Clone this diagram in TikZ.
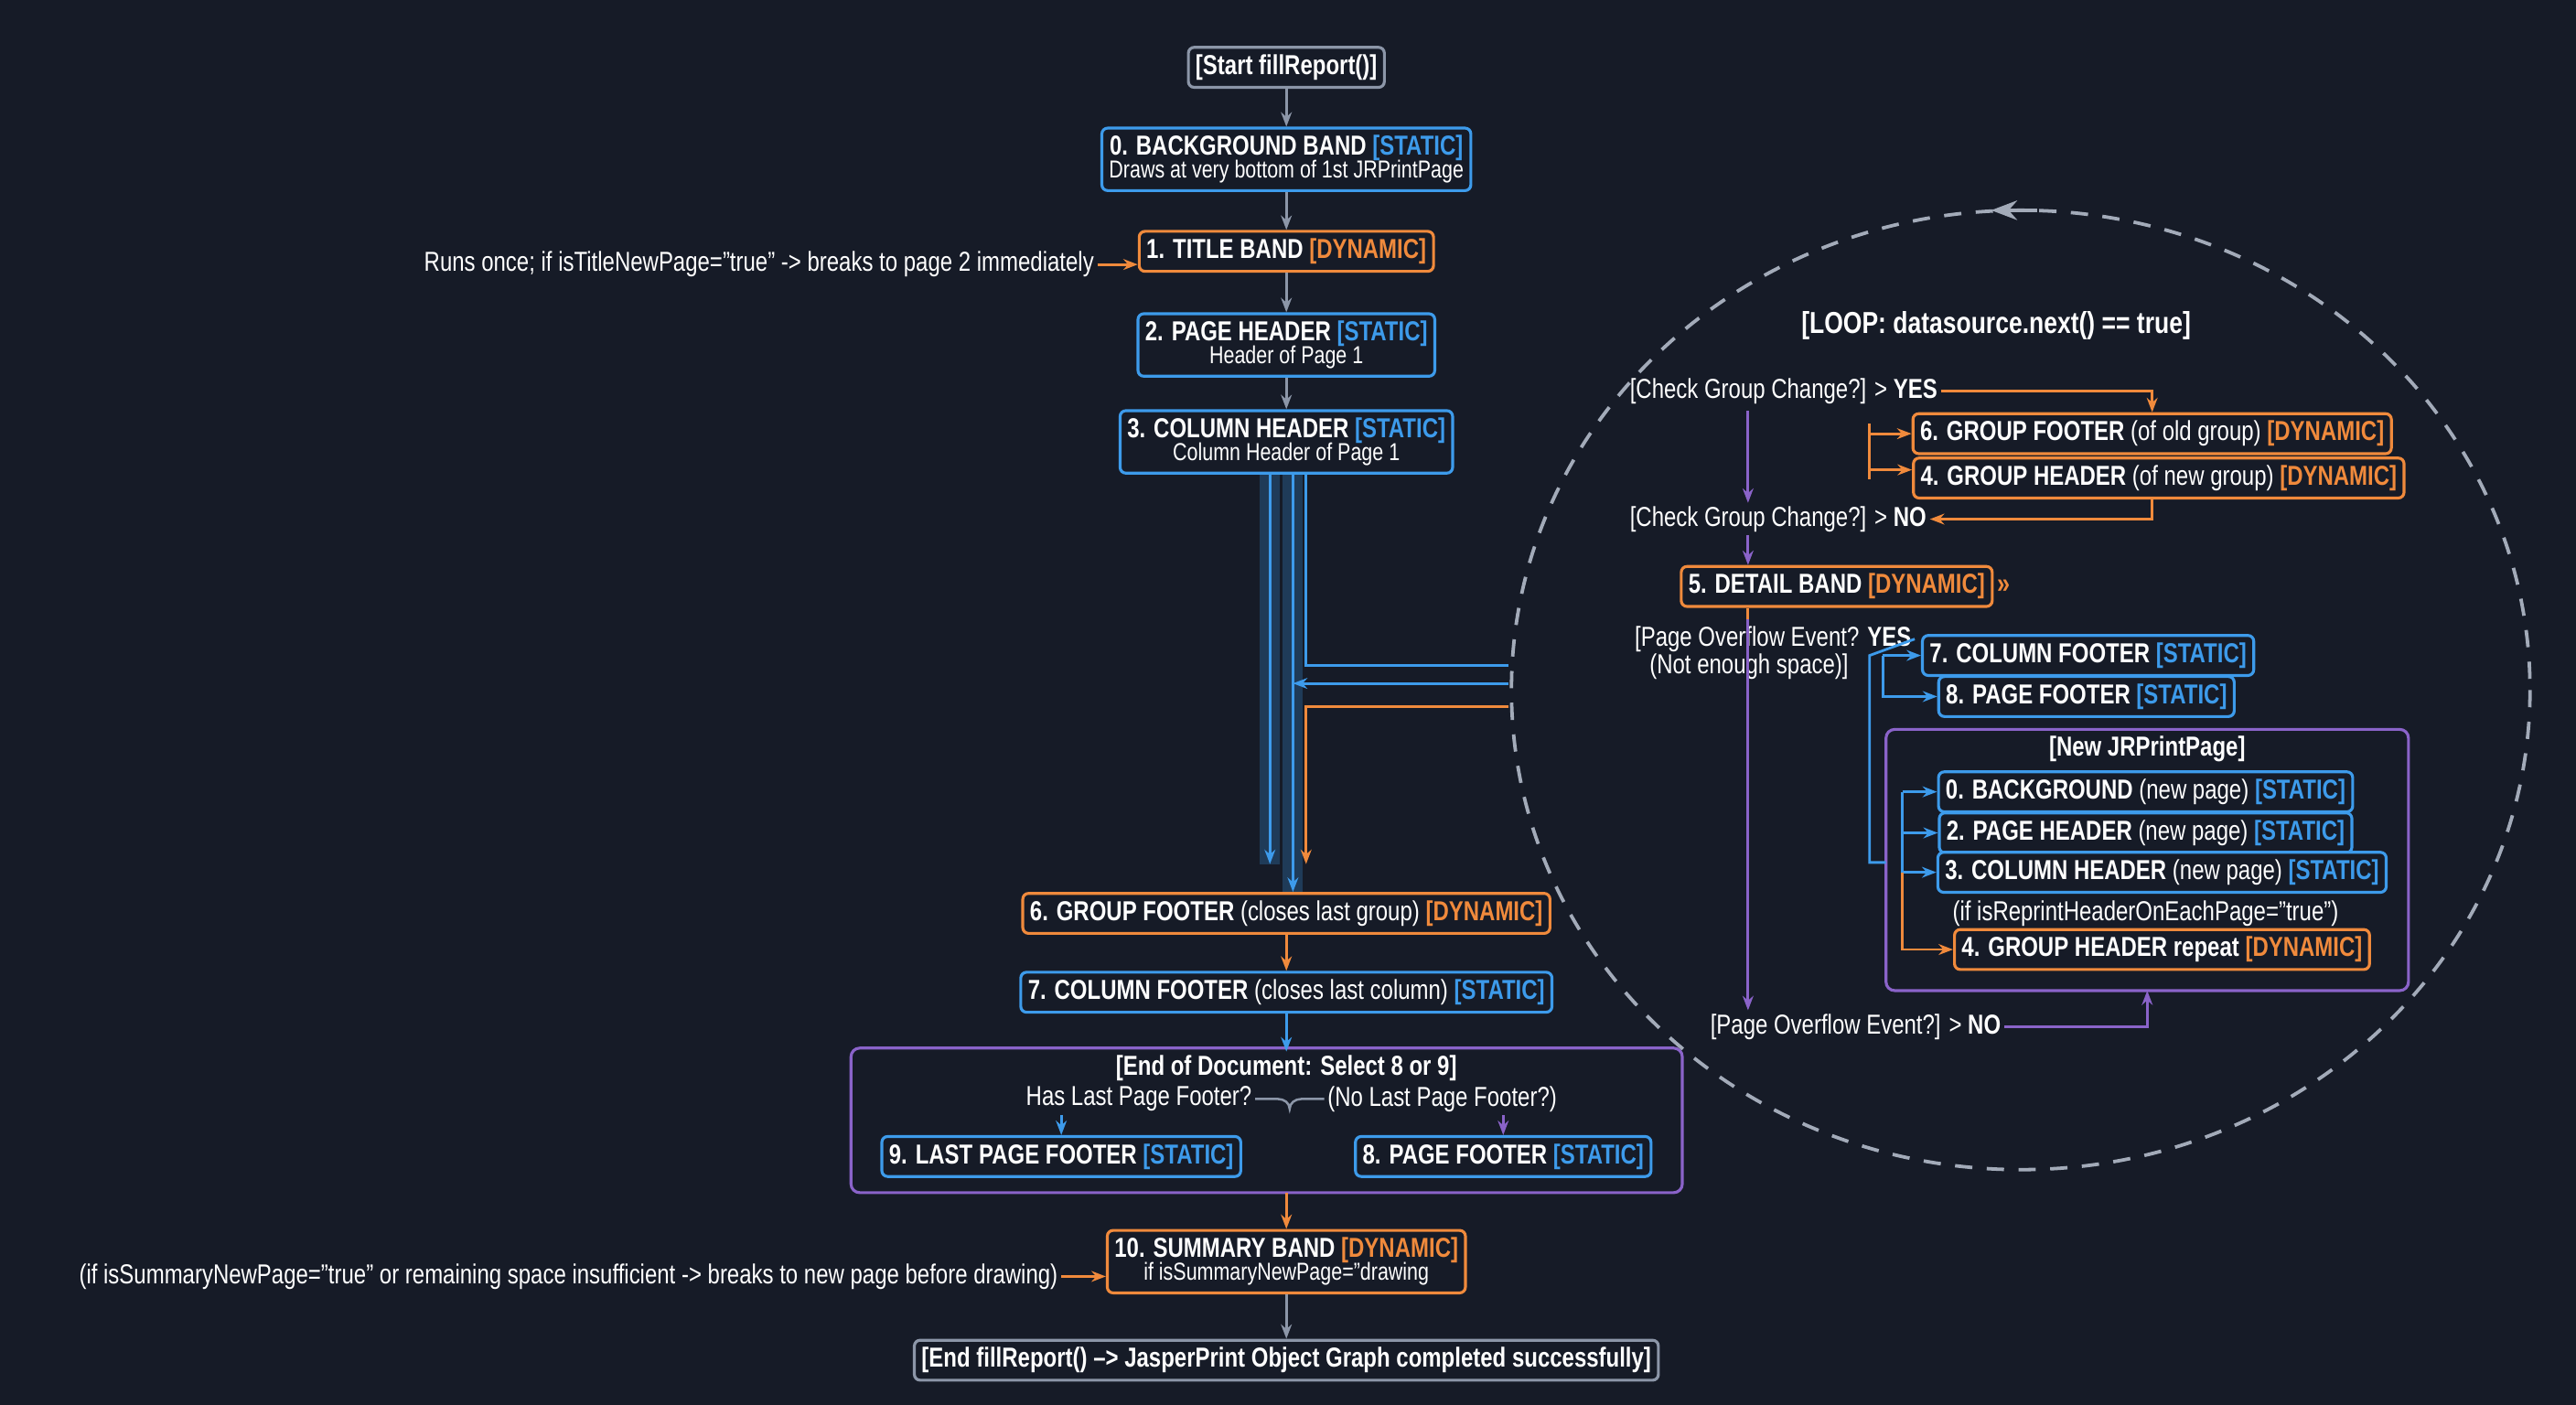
\documentclass[tikz,border=0pt]{standalone}
\usepackage{fontspec}
\setmainfont{Liberation Sans}[FakeStretch=0.8]
\usetikzlibrary{arrows.meta}
\definecolor{bgc}{HTML}{161B27}
\definecolor{cblue}{HTML}{3D9BEB}
\definecolor{corange}{HTML}{F08A3C}
\definecolor{cpurple}{HTML}{8A63C9}
\definecolor{cgray}{HTML}{8C96A8}
\newcommand{\stt}{{\color{cblue}[STATIC]}}
\newcommand{\dyn}{{\color{corange}[DYNAMIC]}}
\newcommand{\subt}{\mdseries\fontsize{8.5}{9}\selectfont}
\tikzset{
  box/.style={draw, rounded corners=2pt, fill=bgc, line width=1pt, inner sep=2.5pt,
    align=center, text=white, font=\fontsize{9.5}{9}\selectfont},
  bbox/.style={box, draw=cblue},
  obox/.style={box, draw=corange},
  gbox/.style={box, draw=cgray},
  txt/.style={text=white, font=\fontsize{9.5}{10}\selectfont, inner sep=1pt, align=center},
  arr/.style={-{Stealth[length=5pt]}, line width=0.9pt},
  ga/.style={arr, draw=cgray},
  ba/.style={arr, draw=cblue},
  oa/.style={arr, draw=corange},
  pa/.style={arr, draw=cpurple},
}
\begin{document}
\begin{tikzpicture}[x=0.02cm, y=-0.02cm]
\fill[bgc] (0,0) rectangle (1568,855);
\useasboundingbox (0,0) rectangle (1568,855);

% main column
\node[gbox] (start) at (783,41) {\bfseries [Start fillReport()]};
\node[bbox] (bg) at (783,97) {\bfseries 0. BACKGROUND BAND \stt\\[-1pt] {\subt Draws at very bottom of 1st JRPrintPage}};
\node[obox] (title) at (783,153) {\bfseries 1. TITLE BAND \dyn};
\node[txt, anchor=east] (tnote) at (668,161) {Runs once; if isTitleNewPage="true" -> breaks to page 2 immediately};
\node[bbox] (ph) at (783,210) {\bfseries 2. PAGE HEADER \stt\\[-1pt] {\subt Header of Page 1}};
\node[bbox] (ch) at (783,269) {\bfseries 3. COLUMN HEADER \stt\\[-1pt] {\subt Column Header of Page 1}};
\node[obox] (gf) at (783,556) {\bfseries 6. GROUP FOOTER {\mdseries (closes last group)} \dyn};
\node[bbox] (cf) at (783,604) {\bfseries 7. COLUMN FOOTER {\mdseries (closes last column)} \stt};

\draw[ga] (start) -- (bg);
\draw[ga] (bg) -- (title);
\draw[oa] (tnote.east) -- (title.west |- tnote.east);
\draw[ga] (title) -- (ph);
\draw[ga] (ph) -- (ch);

% glowing trunk
\coordinate (t1) at (773,289);
\coordinate (t2) at (787,289);
\coordinate (t3) at (795,289);
\coordinate (b1) at (773,526);
\coordinate (b3) at (795,526);
\coordinate (r1) at (918,405);
\coordinate (r2) at (918,416);
\coordinate (r3) at (918,430);
\draw[cblue, line width=7pt, opacity=0.25] (t1) -- (b1) (t2) -- (gf.north -| t2);
\draw[ba] (t1) -- (b1);
\draw[ba] (t2) -- (gf.north -| t2);
\draw[cblue, line width=0.9pt] (t3) |- (r1);
\draw[ba] (r2) -- (r2 -| t2);
\draw[oa] (r3) -| (b3);

\draw[oa] (gf) -- (cf);

% end of document box
\draw[cpurple, line width=1pt, rounded corners=3pt] (518,638) rectangle (1024,726);
\node[txt, font=\fontsize{9.5}{10}\selectfont\bfseries] (eod) at (783,650) {[End of Document: Select 8 or 9]};
\node[txt, anchor=east] (hasl) at (764,669) {Has Last Page Footer?};
\node[txt, anchor=west] (nol) at (806,669) {(No Last Page Footer?)};
\node[bbox] (lpf) at (646,704) {\bfseries 9. LAST PAGE FOOTER \stt};
\node[bbox] (pf) at (915,704) {\bfseries 8. PAGE FOOTER \stt};
\draw[cgray, line width=0.8pt] (hasl.east) -- (778,669) to[out=0,in=90] (785,675) to[out=90,in=180] (792,669) -- (nol.west);
\draw[ba] (hasl.south -| lpf) -- (lpf);
\draw[pa] (nol.south -| pf) -- (pf);
\draw[ba] (cf) -- (eod);

\node[obox] (sum) at (783,768) {\bfseries 10. SUMMARY BAND \dyn\\[-1pt] {\subt if isSummaryNewPage="drawing}};
\node[txt, anchor=east] (snote) at (646,777) {(if isSummaryNewPage="true" or remaining space insufficient -> breaks to new page before drawing)};
\node[gbox] (end) at (783,828) {\bfseries [End fillReport() –> JasperPrint Object Graph completed successfully]};
\draw[oa] (783,726) -- (sum);
\draw[oa] (snote.east) -- (sum.west |- snote.east);
\draw[ga] (sum) -- (end);

% loop
\draw[cgray!80, line width=1.2pt, dash pattern=on 6pt off 5pt] (1230,420) ellipse [x radius=310, y radius=292];
\draw[cgray!80, -{Stealth[length=9pt]}, line width=1.2pt] (1240,128) -- (1212,128);

\node[txt, font=\fontsize{10.5}{11}\selectfont\bfseries] (loop) at (1215,198) {[LOOP: datasource.next() == true]};
\node[txt, anchor=west] (gyes) at (990,238) {[Check Group Change?] > \textbf{YES}};
\node[obox] (gf2) at (1310,264) {\bfseries 6. GROUP FOOTER {\mdseries (of old group)} \dyn};
\node[obox] (gh2) at (1314,291) {\bfseries 4. GROUP HEADER {\mdseries (of new group)} \dyn};
\node[txt, anchor=west] (gno) at (990,316) {[Check Group Change?] > \textbf{NO}};
\draw[oa] (gyes.east) -| (gf2.north);
\draw[corange, line width=0.9pt] (1138,258) -- (1138,292);
\draw[oa] (1138,264) -- (gf2.west);
\draw[oa] (1138,286) -- (gh2.west |- 0,286);
\draw[oa] (gh2.south -| 1310,0) |- (gno.east);
\draw[pa] (1064,250) -- (gno.north -| 1064,0);

\node[obox] (det) at (1118,357) {\bfseries 5. DETAIL BAND \dyn};
\node[text=corange, anchor=west, inner sep=1pt] (dq) at (det.east) {\bfseries »};
\draw[pa] (gno.south -| 1064,0) -- (det.north -| 1064,0);

\node[txt, anchor=west] (oyes) at (993,389) {[Page Overflow Event? \textbf{YES}};
\node[txt, anchor=west] (nspace) at (1002,406) {(Not enough space)]};
\node[bbox] (cf2) at (1271,399) {\bfseries 7. COLUMN FOOTER \stt};
\node[bbox] (pf2) at (1270,424) {\bfseries 8. PAGE FOOTER \stt};
\draw[corange, line width=0.9pt] (det.south -| 1064,0) -- (1064,377);

% new page
\draw[cpurple, line width=1pt, rounded corners=3pt] (1148,444) rectangle (1466,603);
\node[txt, font=\fontsize{9.5}{10}\selectfont\bfseries] (np) at (1307,456) {[New JRPrintPage]};
\node[bbox] (bg2) at (1306,482) {\bfseries 0. BACKGROUND {\mdseries (new page)} \stt};
\node[bbox] (ph2) at (1306,507) {\bfseries 2. PAGE HEADER {\mdseries (new page)} \stt};
\node[bbox] (ch2) at (1316,531) {\bfseries 3. COLUMN HEADER {\mdseries (new page)} \stt};
\node[txt] (rep) at (1306,556) {(if isReprintHeaderOnEachPage="true")};
\node[obox] (gh3) at (1316,578) {\bfseries 4. GROUP HEADER repeat \dyn};

\draw[cblue, line width=0.9pt] (oyes.east) -- (1138,399) -- (1138,525) -- (1148,525);
\draw[ba] (1146,399) -- (cf2.west);
\draw[ba] (1146,399) |- (pf2.west);
\draw[cblue, line width=0.9pt] (1158,482) -- (1158,531);
\draw[ba] (1158,482) -- (bg2.west);
\draw[ba] (1158,507) -- (ph2.west);
\draw[ba] (1158,531) -- (ch2.west);
\draw[oa] (1158,531) |- (gh3.west);

\node[txt, anchor=west] (ono) at (1039,625) {[Page Overflow Event?] > \textbf{NO}};
\draw[pa] (1064,377) -- (1064,615);
\draw[pa] (ono.east) -| (1307,603);
\end{tikzpicture}
\end{document}
